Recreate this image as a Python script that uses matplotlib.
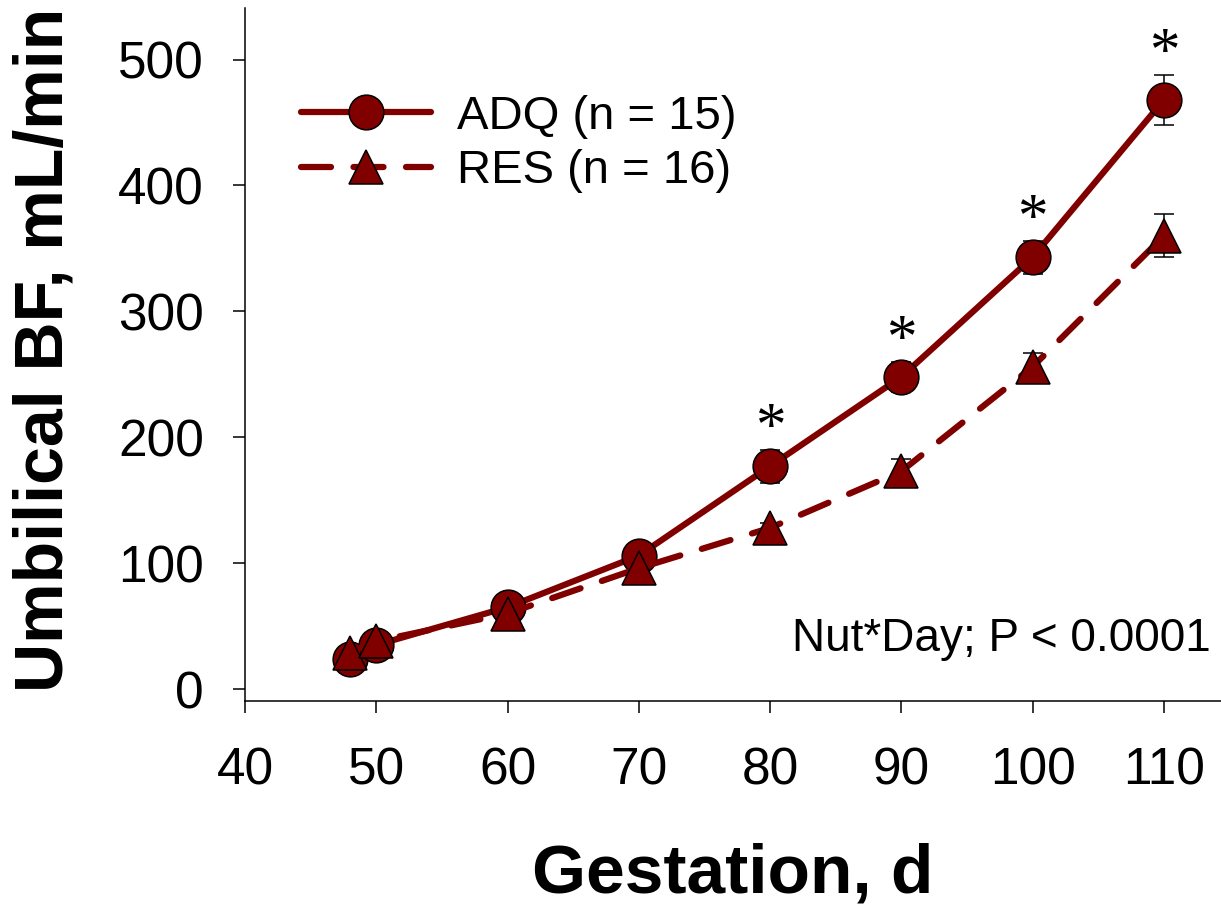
import matplotlib.pyplot as plt

plt.rcParams['font.family'] = ['Liberation Sans', 'DejaVu Sans']

# gestation day, umbilical blood flow (mean and SEM)
days = [48, 50, 60, 70, 80, 90, 100, 110]
adq_mean = [24, 35, 65, 106, 177, 248, 343, 468]
adq_se = [3, 3, 4, 6, 13, 12, 13, 20]
res_mean = [29, 38, 60, 96, 128, 173, 256, 360]
res_se = [3, 3, 4, 5, 4, 10, 11, 17]
star_days = [80, 90, 100, 110]

x_ticks = [40, 50, 60, 70, 80, 90, 100, 110]
y_ticks = [0, 100, 200, 300, 400, 500]

color = '#800000'

fig = plt.figure(figsize=(12.21, 9.06), dpi=100)
ax = fig.add_axes([245 / 1221, 205 / 906, 976 / 1221, 693 / 906])

ax.errorbar(days, adq_mean, yerr=adq_se, fmt='none', ecolor='black', elinewidth=1.1,
            capsize=7, capthick=1.1, zorder=2)
ax.errorbar(days, res_mean, yerr=res_se, fmt='none', ecolor='black', elinewidth=1.1,
            capsize=7, capthick=1.1, zorder=2)

adq_line, = ax.plot(days, adq_mean, color=color, lw=4.5, solid_capstyle='round',
                    marker='o', markersize=25, markerfacecolor=color, markeredgecolor='black',
                    markeredgewidth=1.1, zorder=3, label='ADQ (n = 15)')
res_line, = ax.plot(days, res_mean, color=color, lw=4.5, linestyle=(0, (4.8, 3.6)),
                    dash_capstyle='round', marker='^', markersize=25, markerfacecolor=color,
                    markeredgecolor='black', markeredgewidth=1.1, zorder=4, label='RES (n = 16)')

for d in star_days:
    i = days.index(d)
    ax.annotate('*', xy=(d, adq_mean[i] + adq_se[i]), xytext=(0, 4), textcoords='offset points',
                ha='center', va='baseline', fontsize=44, family='Liberation Serif')

ax.text(0.99, 0.09, 'Nut*Day; P < 0.0001', transform=ax.transAxes, ha='right', va='center',
        fontsize=33)

ax.legend(handles=[adq_line, res_line], loc='upper left', bbox_to_anchor=(301 / 1221, 1 - 95 / 906),
          bbox_transform=fig.transFigure, frameon=False, fontsize=34, handlelength=2.75,
          handletextpad=0.55, labelspacing=0.22, borderpad=0, borderaxespad=0, numpoints=1)

ax.set_xlim(40, 114.35)
ax.set_ylim(-9.5, 541)
ax.set_xticks(x_ticks)
ax.set_yticks(y_ticks)
ax.tick_params(axis='both', direction='out', length=8.5, width=1.1, labelsize=37)
ax.tick_params(axis='x', pad=24)
ax.tick_params(axis='y', pad=21)

for side in ['top', 'right']:
    ax.spines[side].set_visible(False)
for side in ['left', 'bottom']:
    ax.spines[side].set_linewidth(1.1)

ax.set_xlabel('Gestation, d', fontsize=50, fontweight='bold', va='center')
ax.xaxis.set_label_coords(0.5, -0.251)
ax.set_ylabel('Umbilical BF, mL/min', fontsize=49, fontweight='bold', va='center')
ax.yaxis.set_label_coords(-0.205, 0.506)

fig.savefig('out.png', dpi=100)
